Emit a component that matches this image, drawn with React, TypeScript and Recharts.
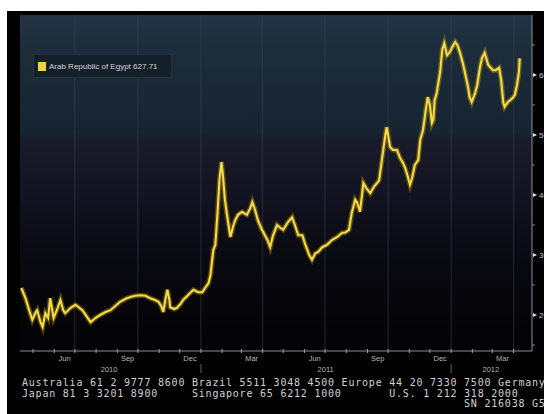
import { LineChart, Line, XAxis, YAxis, ReferenceLine, ReferenceArea } from "recharts";

// Egypt 5y CDS, bps
const dates = [
  "2010-04-14", "2010-04-20", "2010-04-24", "2010-04-30", "2010-05-05", "2010-05-07", "2010-05-12", "2010-05-15",
  "2010-05-19", "2010-05-23", "2010-05-26", "2010-05-31", "2010-06-06", "2010-06-10", "2010-06-14", "2010-06-17",
  "2010-06-25", "2010-07-02", "2010-07-12", "2010-07-18", "2010-07-24", "2010-07-31", "2010-08-07", "2010-08-15",
  "2010-08-22", "2010-08-29", "2010-09-05", "2010-09-13", "2010-09-20", "2010-09-27", "2010-10-05", "2010-10-12",
  "2010-10-19", "2010-10-26", "2010-10-31", "2010-11-04", "2010-11-07", "2010-11-10", "2010-11-13", "2010-11-16",
  "2010-11-17", "2010-11-23", "2010-11-27", "2010-12-02", "2010-12-06", "2010-12-13", "2010-12-21", "2010-12-28",
  "2011-01-03", "2011-01-07", "2011-01-12", "2011-01-15", "2011-01-17", "2011-01-19", "2011-01-22", "2011-01-25",
  "2011-01-28", "2011-01-31", "2011-02-02", "2011-02-05", "2011-02-08", "2011-02-13", "2011-02-17", "2011-02-20",
  "2011-02-24", "2011-03-02", "2011-03-07", "2011-03-09", "2011-03-14", "2011-03-17", "2011-03-21", "2011-03-25",
  "2011-03-31", "2011-04-08", "2011-04-12", "2011-04-16", "2011-04-22", "2011-04-27", "2011-05-01", "2011-05-08",
  "2011-05-14", "2011-05-18", "2011-05-23", "2011-05-29", "2011-06-02", "2011-06-08", "2011-06-12", "2011-06-17",
  "2011-06-21", "2011-06-27", "2011-07-04", "2011-07-11", "2011-07-19", "2011-07-26", "2011-07-30", "2011-08-05",
  "2011-08-09", "2011-08-14", "2011-08-17", "2011-08-21", "2011-08-24", "2011-08-26", "2011-08-30", "2011-09-05",
  "2011-09-11", "2011-09-15", "2011-09-18", "2011-09-22", "2011-09-27", "2011-09-29", "2011-10-04", "2011-10-08",
  "2011-10-14", "2011-10-18", "2011-10-23", "2011-10-26", "2011-10-30", "2011-11-02", "2011-11-05", "2011-11-09",
  "2011-11-14", "2011-11-17", "2011-11-21", "2011-11-25", "2011-11-28", "2011-12-01", "2011-12-04", "2011-12-06",
  "2011-12-08", "2011-12-11", "2011-12-16", "2011-12-19", "2011-12-22", "2011-12-26", "2011-12-30", "2012-01-02",
  "2012-01-07", "2012-01-10", "2012-01-14", "2012-01-18", "2012-01-21", "2012-01-26", "2012-01-28", "2012-01-31",
  "2012-02-05", "2012-02-08", "2012-02-12", "2012-02-15", "2012-02-19", "2012-02-24", "2012-02-27", "2012-03-02",
  "2012-03-06", "2012-03-11", "2012-03-14", "2012-03-17", "2012-03-19", "2012-03-24", "2012-03-27", "2012-03-31",
  "2012-04-03", "2012-04-06", "2012-04-09", "2012-04-10",
];

const spread = [
  245, 228, 213, 192, 205, 208, 188, 180,
  203, 195, 228, 195, 212, 225, 208, 203,
  212, 217, 208, 198, 188, 195, 200, 205,
  208, 215, 222, 227, 230, 232, 233, 232,
  228, 225, 222, 215, 205, 225, 242, 225,
  213, 210, 212, 218, 225, 233, 242, 238,
  238, 245, 253, 267, 288, 308, 317, 367,
  425, 455, 433, 392, 367, 330, 348, 358,
  367, 372, 368, 367, 378, 388, 375, 358,
  342, 325, 313, 332, 350, 345, 342, 355,
  363, 350, 333, 333, 318, 300, 292, 303,
  305, 313, 317, 325, 330, 337, 337, 342,
  370, 392, 387, 372, 400, 420, 412, 403,
  415, 420, 425, 458, 500, 513, 480, 475,
  475, 463, 453, 445, 430, 417, 428, 450,
  458, 492, 508, 542, 563, 550, 520, 525,
  558, 570, 605, 642, 653, 633, 638, 645,
  655, 650, 637, 620, 605, 578, 563, 555,
  570, 583, 612, 628, 637, 617, 613, 608,
  608, 612, 592, 555, 547, 555, 558, 562,
  567, 583, 605, 627.71,
];

const seriesName = "Arab Republic of Egypt";
const lastValue = "627.71";

const xStart = "2010-04-12";
const xEnd = "2012-04-28";

const monthStarts = [
  "2010-05-01", "2010-06-01", "2010-07-01", "2010-08-01", "2010-09-01", "2010-10-01", "2010-11-01", "2010-12-01",
  "2011-01-01", "2011-02-01", "2011-03-01", "2011-04-01", "2011-05-01", "2011-06-01", "2011-07-01", "2011-08-01",
  "2011-09-01", "2011-10-01", "2011-11-01", "2011-12-01", "2012-01-01", "2012-02-01", "2012-03-01", "2012-04-01",
];
const quarterStarts = [
  "2010-07-01", "2010-10-01", "2011-01-01", "2011-04-01", "2011-07-01", "2011-10-01", "2012-01-01", "2012-04-01",
];
const monthLabelDates = [
  "2010-06-16", "2010-09-16", "2010-12-16", "2011-03-16", "2011-06-16", "2011-09-16", "2011-12-16", "2012-03-16",
];
const monthLabels = ["Jun", "Sep", "Dec", "Mar", "Jun", "Sep", "Dec", "Mar"];
const yearLabelDates = ["2010-08-20", "2011-07-02", "2012-02-28"];
const yearLabels = ["2010", "2011", "2012"];
const yearBreaks = ["2011-01-01", "2012-01-01"];

const yTicks = [150, 200, 250, 300, 350, 400, 450, 500, 550, 600, 650];
const yMajor = [200, 300, 400, 500, 600];

const toT = (s: string) => Date.parse(s);

const data = dates.map((d, i) => ({ t: toT(d), v: spread[i] }));

type TickInfo = { kind: "month" | "label" | "year" | "break"; text?: string };
const tickInfo = new Map<number, TickInfo>();
monthStarts.forEach((d) => tickInfo.set(toT(d), { kind: "month" }));
yearBreaks.forEach((d) => tickInfo.set(toT(d), { kind: "break" }));
monthLabelDates.forEach((d, i) => tickInfo.set(toT(d), { kind: "label", text: monthLabels[i] }));
yearLabelDates.forEach((d, i) => tickInfo.set(toT(d), { kind: "year", text: yearLabels[i] }));
const xTicks = Array.from(tickInfo.keys()).sort((a, b) => a - b);

const XTick = (props: any) => {
  const { x, y, payload } = props;
  const info = tickInfo.get(payload.value);
  if (!info) return null;
  if (info.kind === "month" || info.kind === "break") {
    return (
      <g>
        <line x1={x} x2={x} y1={y - 2} y2={y + 2} stroke="#9aa0a6" strokeWidth={1} />
        {info.kind === "break" && (
          <line x1={x} x2={x} y1={y + 13} y2={y + 26} stroke="#5c5f64" strokeWidth={1} />
        )}
      </g>
    );
  }
  return (
    <text
      x={x}
      y={info.kind === "label" ? y + 10 : y + 21}
      textAnchor="middle"
      fill="#b4b6b8"
      fontSize={7.5}
      fontFamily="Liberation Sans, Arial, sans-serif"
    >
      {info.text}
    </text>
  );
};

const YTick = (props: any) => {
  const { x, y, payload } = props;
  if (yMajor.includes(payload.value)) {
    return (
      <g>
        <polygon points={`${x + 1},${y - 2} ${x + 5},${y} ${x + 1},${y + 2}`} fill="#e0e0e0" />
        <text x={x + 7} y={y + 3} fill="#c8c8c8" fontSize={8} fontFamily="Liberation Sans, Arial, sans-serif">
          {payload.value}
        </text>
      </g>
    );
  }
  return <line x1={x} x2={x + 3} y1={y} y2={y} stroke="#7d8288" strokeWidth={1} />;
};

export default function App() {
  return (
    <div
      style={{
        position: "absolute",
        left: 7,
        top: 11,
        width: 537,
        height: 403,
        background: "#000",
        overflow: "hidden",
      }}
    >
      <LineChart width={537} height={362} data={data} margin={{ top: 4, right: 0, left: 13, bottom: 0 }}>
        <defs>
          <linearGradient id="bg" x1="0" y1="0" x2="0" y2="1">
            <stop offset="0" stopColor="#223444" />
            <stop offset="0.09" stopColor="#1d2d3b" />
            <stop offset="0.35" stopColor="#172432" />
            <stop offset="0.37" stopColor="#1a1b2b" />
            <stop offset="0.55" stopColor="#121220" />
            <stop offset="0.75" stopColor="#08080f" />
            <stop offset="1" stopColor="#030306" />
          </linearGradient>
        </defs>
        <XAxis
          dataKey="t"
          type="number"
          scale="linear"
          domain={[toT(xStart), toT(xEnd)]}
          allowDataOverflow
          ticks={xTicks}
          interval={0}
          tick={<XTick />}
          tickLine={false}
          tickSize={0}
          tickMargin={0}
          height={22}
          axisLine={{ stroke: "#8a8f96" }}
        />
        <YAxis
          orientation="right"
          type="number"
          domain={[140, 700]}
          allowDataOverflow
          ticks={yTicks}
          interval={0}
          tick={<YTick />}
          tickLine={false}
          tickSize={0}
          tickMargin={0}
          width={12}
          axisLine={{ stroke: "#8a8f96" }}
        />
        <ReferenceArea x1={toT(xStart)} x2={toT(xEnd)} y1={140} y2={700} fill="url(#bg)" fillOpacity={1} stroke="none" />
        {quarterStarts.map((d) => (
          <ReferenceLine key={d} x={toT(d)} stroke="#3a4654" strokeOpacity={0.55} strokeWidth={1} />
        ))}
        <Line
          dataKey="v"
          type="linear"
          stroke="#c9a300"
          strokeOpacity={0.4}
          strokeWidth={5}
          dot={false}
          isAnimationActive={false}
        />
        <Line
          dataKey="v"
          type="linear"
          stroke="#f5da4c"
          strokeWidth={2.1}
          dot={false}
          isAnimationActive={false}
        />
      </LineChart>

      <div
        style={{
          position: "absolute",
          left: 26,
          top: 43,
          width: 139,
          height: 24,
          background: "#131f2b",
          border: "1px solid #26323e",
          boxSizing: "border-box",
          display: "flex",
          alignItems: "center",
          paddingLeft: 4,
          fontFamily: "Liberation Sans, Arial, sans-serif",
          fontSize: 8,
          color: "#d6d6d6",
          whiteSpace: "nowrap",
        }}
      >
        <span style={{ display: "inline-block", width: 8, height: 9, background: "#f0d23a", marginRight: 3 }} />
        {seriesName} {lastValue}
      </div>

      <div
        style={{
          position: "absolute",
          left: 15,
          top: 367,
          fontFamily: "DejaVu Sans Mono, Liberation Mono, monospace",
          fontSize: 10,
          lineHeight: "10.5px",
          letterSpacing: 0.78,
          color: "#d2d2d2",
          whiteSpace: "pre",
        }}
      >
        {"Australia 61 2 9777 8600 Brazil 5511 3048 4500 Europe 44 20 7330 7500 Germany 49 69 9204 1210\n"}
        {"Japan 81 3 3201 8900     Singapore 65 6212 1000       U.S. 1 212 318 2000\n"}
        {"                                                                 SN 216038 G536-845-0"}
      </div>
    </div>
  );
}
